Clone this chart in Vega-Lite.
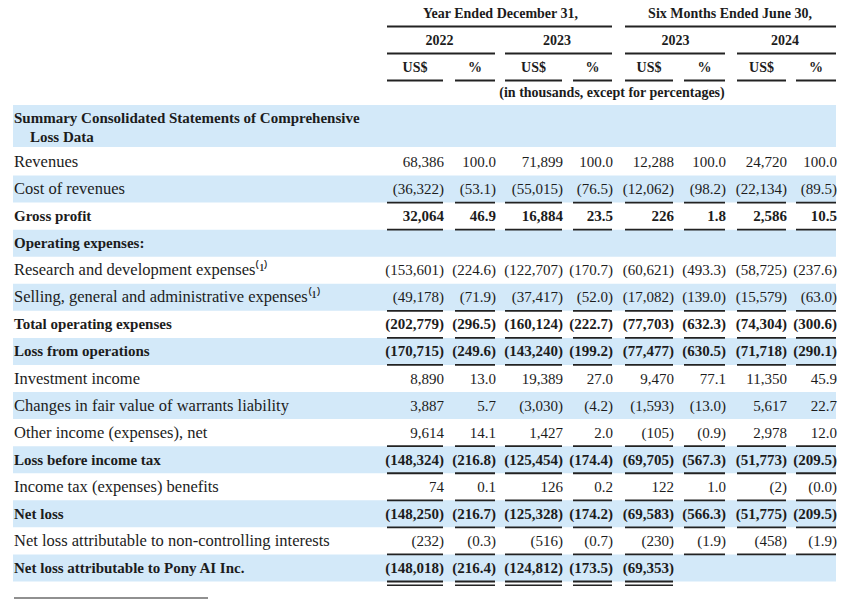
{
  "$schema": "https://vega.github.io/schema/vega-lite/v6.json",
  "width": 852,
  "height": 614,
  "padding": 0,
  "autosize": "none",
  "background": "white",
  "config": {"view": {"stroke": null}, "text": {"font": "Liberation Serif", "color": "#1c1c1c"}, "rule": {"color": "#222222"}},
  "datasets": {
    "rows": [
      {"r": 4, "label": ["Summary Consolidated Statements of Comprehensive", "Loss Data"], "kind": "section", "under": "none"},
      {"r": 5, "label": "Revenues", "kind": "item", "under": "none", "v1": "68,386", "v2": "100.0", "v3": "71,899", "v4": "100.0", "v5": "12,288", "v6": "100.0", "v7": "24,720", "v8": "100.0"},
      {"r": 6, "label": "Cost of revenues", "kind": "item", "under": "single", "v1": "(36,322)", "v2": "(53.1)", "v3": "(55,015)", "v4": "(76.5)", "v5": "(12,062)", "v6": "(98.2)", "v7": "(22,134)", "v8": "(89.5)"},
      {"r": 7, "label": "Gross profit", "kind": "total", "under": "single", "v1": "32,064", "v2": "46.9", "v3": "16,884", "v4": "23.5", "v5": "226", "v6": "1.8", "v7": "2,586", "v8": "10.5"},
      {"r": 8, "label": "Operating expenses:", "kind": "section", "under": "none"},
      {"r": 9, "label": "Research and development expenses\u207d\u00b9\u207e", "kind": "item", "under": "none", "v1": "(153,601)", "v2": "(224.6)", "v3": "(122,707)", "v4": "(170.7)", "v5": "(60,621)", "v6": "(493.3)", "v7": "(58,725)", "v8": "(237.6)"},
      {"r": 10, "label": "Selling, general and administrative expenses\u207d\u00b9\u207e", "kind": "item", "under": "single", "v1": "(49,178)", "v2": "(71.9)", "v3": "(37,417)", "v4": "(52.0)", "v5": "(17,082)", "v6": "(139.0)", "v7": "(15,579)", "v8": "(63.0)"},
      {"r": 11, "label": "Total operating expenses", "kind": "total", "under": "single", "v1": "(202,779)", "v2": "(296.5)", "v3": "(160,124)", "v4": "(222.7)", "v5": "(77,703)", "v6": "(632.3)", "v7": "(74,304)", "v8": "(300.6)"},
      {"r": 12, "label": "Loss from operations", "kind": "total", "under": "single", "v1": "(170,715)", "v2": "(249.6)", "v3": "(143,240)", "v4": "(199.2)", "v5": "(77,477)", "v6": "(630.5)", "v7": "(71,718)", "v8": "(290.1)"},
      {"r": 13, "label": "Investment income", "kind": "item", "under": "none", "v1": "8,890", "v2": "13.0", "v3": "19,389", "v4": "27.0", "v5": "9,470", "v6": "77.1", "v7": "11,350", "v8": "45.9"},
      {"r": 14, "label": "Changes in fair value of warrants liability", "kind": "item", "under": "none", "v1": "3,887", "v2": "5.7", "v3": "(3,030)", "v4": "(4.2)", "v5": "(1,593)", "v6": "(13.0)", "v7": "5,617", "v8": "22.7"},
      {"r": 15, "label": "Other income (expenses), net", "kind": "item", "under": "single", "v1": "9,614", "v2": "14.1", "v3": "1,427", "v4": "2.0", "v5": "(105)", "v6": "(0.9)", "v7": "2,978", "v8": "12.0"},
      {"r": 16, "label": "Loss before income tax", "kind": "total", "under": "single", "v1": "(148,324)", "v2": "(216.8)", "v3": "(125,454)", "v4": "(174.4)", "v5": "(69,705)", "v6": "(567.3)", "v7": "(51,773)", "v8": "(209.5)"},
      {"r": 17, "label": "Income tax (expenses) benefits", "kind": "item", "under": "single", "v1": "74", "v2": "0.1", "v3": "126", "v4": "0.2", "v5": "122", "v6": "1.0", "v7": "(2)", "v8": "(0.0)"},
      {"r": 18, "label": "Net loss", "kind": "total", "under": "single", "v1": "(148,250)", "v2": "(216.7)", "v3": "(125,328)", "v4": "(174.2)", "v5": "(69,583)", "v6": "(566.3)", "v7": "(51,775)", "v8": "(209.5)"},
      {"r": 19, "label": "Net loss attributable to non-controlling interests", "kind": "item", "under": "single", "v1": "(232)", "v2": "(0.3)", "v3": "(516)", "v4": "(0.7)", "v5": "(230)", "v6": "(1.9)", "v7": "(458)", "v8": "(1.9)"},
      {"r": 20, "label": "Net loss attributable to Pony AI Inc.", "kind": "total", "under": "double", "v1": "(148,018)", "v2": "(216.4)", "v3": "(124,812)", "v4": "(173.5)", "v5": "(69,353)"}
    ],
    "heads": [
      {"lvl": 0, "h": 1, "t": "Year Ended December 31,"},
      {"lvl": 0, "h": 2, "t": "Six Months Ended June 30,"},
      {"lvl": 1, "h": 1, "t": "2022"},
      {"lvl": 1, "h": 2, "t": "2023"},
      {"lvl": 1, "h": 3, "t": "2023"},
      {"lvl": 1, "h": 4, "t": "2024"}
    ],
    "colheads": [
      {"lvl": 2, "c": 1, "t": "US$"}, {"lvl": 2, "c": 2, "t": "%"},
      {"lvl": 2, "c": 3, "t": "US$"}, {"lvl": 2, "c": 4, "t": "%"},
      {"lvl": 2, "c": 5, "t": "US$"}, {"lvl": 2, "c": 6, "t": "%"},
      {"lvl": 2, "c": 7, "t": "US$"}, {"lvl": 2, "c": 8, "t": "%"}
    ],
    "spans": [
      {"lvl": 0, "first": 1, "last": 4}, {"lvl": 0, "first": 5, "last": 8},
      {"lvl": 1, "first": 1, "last": 2}, {"lvl": 1, "first": 3, "last": 4},
      {"lvl": 1, "first": 5, "last": 6}, {"lvl": 1, "first": 7, "last": 8},
      {"lvl": 2, "first": 1, "last": 1}, {"lvl": 2, "first": 2, "last": 2},
      {"lvl": 2, "first": 3, "last": 3}, {"lvl": 2, "first": 4, "last": 4},
      {"lvl": 2, "first": 5, "last": 5}, {"lvl": 2, "first": 6, "last": 6},
      {"lvl": 2, "first": 7, "last": 7}, {"lvl": 2, "first": 8, "last": 8}
    ]
  },
  "resolve": {"scale": {"x": "independent", "y": "independent"}},
  "layer": [
    {
      "data": {"name": "rows"},
      "transform": [{"filter": "datum.r >= 6 && datum.r % 2 == 0"}],
      "mark": {"type": "rect", "color": "#d3e9f9", "yOffset": -13.5, "y2Offset": 13.5},
      "encoding": {
        "x": {"datum": 0, "type": "quantitative", "axis": null, "scale": {"type": "linear", "domain": [0, 0.5, 1, 1.5, 2, 2.5, 3, 3.5, 4, 4.5, 5, 5.5, 6, 6.5, 7, 7.5, 8], "range": [13, 387, 443, 455, 495, 505, 562, 573, 612, 625, 673, 684, 725, 737, 786, 796, 836], "zero": false, "nice": false}},
        "x2": {"datum": 8},
        "y": {"field": "r", "type": "quantitative", "axis": null, "scale": {"type": "linear", "domain": [0, 1, 2, 3, 4, 5, 20], "range": [14, 41, 68, 93, 127.5, 162, 568], "zero": false, "nice": false}},
        "y2": {"field": "r"}
      }
    },
    {
      "data": {"name": "rows"},
      "transform": [{"filter": "datum.r == 4"}],
      "mark": {"type": "rect", "color": "#d3e9f9", "yOffset": -22.5, "y2Offset": 19.5},
      "encoding": {
        "x": {"datum": 0, "type": "quantitative", "axis": null, "scale": {"type": "linear", "domain": [0, 0.5, 1, 1.5, 2, 2.5, 3, 3.5, 4, 4.5, 5, 5.5, 6, 6.5, 7, 7.5, 8], "range": [13, 387, 443, 455, 495, 505, 562, 573, 612, 625, 673, 684, 725, 737, 786, 796, 836], "zero": false, "nice": false}},
        "x2": {"datum": 8},
        "y": {"field": "r", "type": "quantitative", "axis": null, "scale": {"type": "linear", "domain": [0, 1, 2, 3, 4, 5, 20], "range": [14, 41, 68, 93, 127.5, 162, 568], "zero": false, "nice": false}},
        "y2": {"field": "r"}
      }
    },
    {
      "data": {"name": "rows"},
      "transform": [{"filter": "datum.kind == 'item'"}],
      "mark": {"type": "text", "align": "left", "baseline": "middle", "fontSize": 16.5, "dx": 1},
      "encoding": {
        "x": {"datum": 0, "type": "quantitative", "axis": null, "scale": {"type": "linear", "domain": [0, 0.5, 1, 1.5, 2, 2.5, 3, 3.5, 4, 4.5, 5, 5.5, 6, 6.5, 7, 7.5, 8], "range": [13, 387, 443, 455, 495, 505, 562, 573, 612, 625, 673, 684, 725, 737, 786, 796, 836], "zero": false, "nice": false}},
        "y": {"field": "r", "type": "quantitative", "axis": null, "scale": {"type": "linear", "domain": [0, 1, 2, 3, 4, 5, 20], "range": [14, 41, 68, 93, 127.5, 162, 568], "zero": false, "nice": false}},
        "text": {"field": "label"}
      }
    },
    {
      "data": {"name": "rows"},
      "transform": [{"filter": "datum.kind != 'item' && datum.r != 4"}],
      "mark": {"type": "text", "align": "left", "baseline": "middle", "fontSize": 15, "fontWeight": "bold", "dx": 1},
      "encoding": {
        "x": {"datum": 0, "type": "quantitative", "axis": null, "scale": {"type": "linear", "domain": [0, 0.5, 1, 1.5, 2, 2.5, 3, 3.5, 4, 4.5, 5, 5.5, 6, 6.5, 7, 7.5, 8], "range": [13, 387, 443, 455, 495, 505, 562, 573, 612, 625, 673, 684, 725, 737, 786, 796, 836], "zero": false, "nice": false}},
        "y": {"field": "r", "type": "quantitative", "axis": null, "scale": {"type": "linear", "domain": [0, 1, 2, 3, 4, 5, 20], "range": [14, 41, 68, 93, 127.5, 162, 568], "zero": false, "nice": false}},
        "text": {"field": "label"}
      }
    },
    {
      "data": {"name": "rows"},
      "transform": [
        {"filter": "datum.r == 4"},
        {"flatten": ["label"]},
        {"window": [{"op": "row_number", "as": "line"}]},
        {"filter": "datum.line == 1"}
      ],
      "mark": {"type": "text", "align": "left", "baseline": "middle", "fontSize": 15, "fontWeight": "bold", "dx": 1, "dy": -9.5},
      "encoding": {
        "x": {"datum": 0, "type": "quantitative", "axis": null, "scale": {"type": "linear", "domain": [0, 0.5, 1, 1.5, 2, 2.5, 3, 3.5, 4, 4.5, 5, 5.5, 6, 6.5, 7, 7.5, 8], "range": [13, 387, 443, 455, 495, 505, 562, 573, 612, 625, 673, 684, 725, 737, 786, 796, 836], "zero": false, "nice": false}},
        "y": {"field": "r", "type": "quantitative", "axis": null, "scale": {"type": "linear", "domain": [0, 1, 2, 3, 4, 5, 20], "range": [14, 41, 68, 93, 127.5, 162, 568], "zero": false, "nice": false}},
        "text": {"field": "label"}
      }
    },
    {
      "data": {"name": "rows"},
      "transform": [
        {"filter": "datum.r == 4"},
        {"flatten": ["label"]},
        {"window": [{"op": "row_number", "as": "line"}]},
        {"filter": "datum.line == 2"}
      ],
      "mark": {"type": "text", "align": "left", "baseline": "middle", "fontSize": 15, "fontWeight": "bold", "dx": 17, "dy": 9.5},
      "encoding": {
        "x": {"datum": 0, "type": "quantitative", "axis": null, "scale": {"type": "linear", "domain": [0, 0.5, 1, 1.5, 2, 2.5, 3, 3.5, 4, 4.5, 5, 5.5, 6, 6.5, 7, 7.5, 8], "range": [13, 387, 443, 455, 495, 505, 562, 573, 612, 625, 673, 684, 725, 737, 786, 796, 836], "zero": false, "nice": false}},
        "y": {"field": "r", "type": "quantitative", "axis": null, "scale": {"type": "linear", "domain": [0, 1, 2, 3, 4, 5, 20], "range": [14, 41, 68, 93, 127.5, 162, 568], "zero": false, "nice": false}},
        "text": {"field": "label"}
      }
    },
    {
      "data": {"name": "rows"},
      "transform": [
        {"fold": ["v1", "v2", "v3", "v4", "v5", "v6", "v7", "v8"], "as": ["key", "v"]},
        {"filter": "isValid(datum.v) && datum.kind == 'item'"},
        {"calculate": "toNumber(substring(datum.key, 1))", "as": "c"}
      ],
      "mark": {"type": "text", "align": "right", "baseline": "middle", "fontSize": 15, "dx": 1},
      "encoding": {
        "x": {"field": "c", "type": "quantitative", "axis": null, "scale": {"type": "linear", "domain": [0, 0.5, 1, 1.5, 2, 2.5, 3, 3.5, 4, 4.5, 5, 5.5, 6, 6.5, 7, 7.5, 8], "range": [13, 387, 443, 455, 495, 505, 562, 573, 612, 625, 673, 684, 725, 737, 786, 796, 836], "zero": false, "nice": false}},
        "y": {"field": "r", "type": "quantitative", "axis": null, "scale": {"type": "linear", "domain": [0, 1, 2, 3, 4, 5, 20], "range": [14, 41, 68, 93, 127.5, 162, 568], "zero": false, "nice": false}},
        "text": {"field": "v"}
      }
    },
    {
      "data": {"name": "rows"},
      "transform": [
        {"fold": ["v1", "v2", "v3", "v4", "v5", "v6", "v7", "v8"], "as": ["key", "v"]},
        {"filter": "isValid(datum.v) && datum.kind != 'item'"},
        {"calculate": "toNumber(substring(datum.key, 1))", "as": "c"}
      ],
      "mark": {"type": "text", "align": "right", "baseline": "middle", "fontSize": 15, "fontWeight": "bold", "dx": 1},
      "encoding": {
        "x": {"field": "c", "type": "quantitative", "axis": null, "scale": {"type": "linear", "domain": [0, 0.5, 1, 1.5, 2, 2.5, 3, 3.5, 4, 4.5, 5, 5.5, 6, 6.5, 7, 7.5, 8], "range": [13, 387, 443, 455, 495, 505, 562, 573, 612, 625, 673, 684, 725, 737, 786, 796, 836], "zero": false, "nice": false}},
        "y": {"field": "r", "type": "quantitative", "axis": null, "scale": {"type": "linear", "domain": [0, 1, 2, 3, 4, 5, 20], "range": [14, 41, 68, 93, 127.5, 162, 568], "zero": false, "nice": false}},
        "text": {"field": "v"}
      }
    },
    {
      "data": {"name": "rows"},
      "transform": [
        {"fold": ["v1", "v2", "v3", "v4", "v5", "v6", "v7", "v8"], "as": ["key", "v"]},
        {"filter": "isValid(datum.v) && datum.under != 'none'"},
        {"calculate": "toNumber(substring(datum.key, 1))", "as": "c"},
        {"calculate": "datum.c - 0.5", "as": "c0"}
      ],
      "mark": {"type": "rule", "strokeWidth": 1.8, "yOffset": 13.5},
      "encoding": {
        "x": {"field": "c0", "type": "quantitative", "axis": null, "scale": {"type": "linear", "domain": [0, 0.5, 1, 1.5, 2, 2.5, 3, 3.5, 4, 4.5, 5, 5.5, 6, 6.5, 7, 7.5, 8], "range": [13, 387, 443, 455, 495, 505, 562, 573, 612, 625, 673, 684, 725, 737, 786, 796, 836], "zero": false, "nice": false}},
        "x2": {"field": "c"},
        "y": {"field": "r", "type": "quantitative", "axis": null, "scale": {"type": "linear", "domain": [0, 1, 2, 3, 4, 5, 20], "range": [14, 41, 68, 93, 127.5, 162, 568], "zero": false, "nice": false}}
      }
    },
    {
      "data": {"name": "rows"},
      "transform": [
        {"fold": ["v1", "v2", "v3", "v4", "v5", "v6", "v7", "v8"], "as": ["key", "v"]},
        {"filter": "isValid(datum.v) && datum.under == 'double'"},
        {"calculate": "toNumber(substring(datum.key, 1))", "as": "c"},
        {"calculate": "datum.c - 0.5", "as": "c0"}
      ],
      "mark": {"type": "rule", "strokeWidth": 1.5, "yOffset": 17.3},
      "encoding": {
        "x": {"field": "c0", "type": "quantitative", "axis": null, "scale": {"type": "linear", "domain": [0, 0.5, 1, 1.5, 2, 2.5, 3, 3.5, 4, 4.5, 5, 5.5, 6, 6.5, 7, 7.5, 8], "range": [13, 387, 443, 455, 495, 505, 562, 573, 612, 625, 673, 684, 725, 737, 786, 796, 836], "zero": false, "nice": false}},
        "x2": {"field": "c"},
        "y": {"field": "r", "type": "quantitative", "axis": null, "scale": {"type": "linear", "domain": [0, 1, 2, 3, 4, 5, 20], "range": [14, 41, 68, 93, 127.5, 162, 568], "zero": false, "nice": false}}
      }
    },
    {
      "data": {"name": "spans"},
      "transform": [
        {"calculate": "datum.first - 0.5", "as": "x0"}
      ],
      "mark": {"type": "rule", "strokeWidth": 1.8, "yOffset": 12.5},
      "encoding": {
        "x": {"field": "x0", "type": "quantitative", "axis": null, "scale": {"type": "linear", "domain": [0, 0.5, 1, 1.5, 2, 2.5, 3, 3.5, 4, 4.5, 5, 5.5, 6, 6.5, 7, 7.5, 8], "range": [13, 387, 443, 455, 495, 505, 562, 573, 612, 625, 673, 684, 725, 737, 786, 796, 836], "zero": false, "nice": false}},
        "x2": {"field": "last"},
        "y": {"field": "lvl", "type": "quantitative", "axis": null, "scale": {"type": "linear", "domain": [0, 1, 2, 3, 4, 5, 20], "range": [14, 41, 68, 93, 127.5, 162, 568], "zero": false, "nice": false}}
      }
    },
    {
      "data": {"name": "heads"},
      "transform": [{"filter": "datum.lvl == 0"}],
      "mark": {"type": "text", "align": "center", "baseline": "middle", "fontSize": 14, "fontWeight": "bold"},
      "encoding": {
        "x": {"field": "h", "type": "quantitative", "axis": null, "scale": {"type": "linear", "domain": [1, 2], "range": [500.5, 730], "zero": false, "nice": false}},
        "y": {"field": "lvl", "type": "quantitative", "axis": null, "scale": {"type": "linear", "domain": [0, 1, 2, 3, 4, 5, 20], "range": [14, 41, 68, 93, 127.5, 162, 568], "zero": false, "nice": false}},
        "text": {"field": "t"}
      }
    },
    {
      "data": {"name": "heads"},
      "transform": [{"filter": "datum.lvl == 1"}],
      "mark": {"type": "text", "align": "center", "baseline": "middle", "fontSize": 14, "fontWeight": "bold"},
      "encoding": {
        "x": {"field": "h", "type": "quantitative", "axis": null, "scale": {"type": "linear", "domain": [1, 2, 3, 4], "range": [439.5, 557, 675.5, 785], "zero": false, "nice": false}},
        "y": {"field": "lvl", "type": "quantitative", "axis": null, "scale": {"type": "linear", "domain": [0, 1, 2, 3, 4, 5, 20], "range": [14, 41, 68, 93, 127.5, 162, 568], "zero": false, "nice": false}},
        "text": {"field": "t"}
      }
    },
    {
      "data": {"name": "colheads"},
      "transform": [{"calculate": "datum.c - 0.25", "as": "xc"}],
      "mark": {"type": "text", "align": "center", "baseline": "middle", "fontSize": 14, "fontWeight": "bold"},
      "encoding": {
        "x": {"field": "xc", "type": "quantitative", "axis": null, "scale": {"type": "linear", "domain": [0, 0.5, 1, 1.5, 2, 2.5, 3, 3.5, 4, 4.5, 5, 5.5, 6, 6.5, 7, 7.5, 8], "range": [13, 387, 443, 455, 495, 505, 562, 573, 612, 625, 673, 684, 725, 737, 786, 796, 836], "zero": false, "nice": false}},
        "y": {"field": "lvl", "type": "quantitative", "axis": null, "scale": {"type": "linear", "domain": [0, 1, 2, 3, 4, 5, 20], "range": [14, 41, 68, 93, 127.5, 162, 568], "zero": false, "nice": false}},
        "text": {"field": "t"}
      }
    },
    {
      "data": {"values": [{"t": "(in thousands, except for percentages)"}]},
      "mark": {"type": "text", "align": "center", "baseline": "middle", "fontSize": 14, "fontWeight": "bold"},
      "encoding": {
        "x": {"datum": 4, "type": "quantitative", "axis": null, "scale": {"type": "linear", "domain": [0, 0.5, 1, 1.5, 2, 2.5, 3, 3.5, 4, 4.5, 5, 5.5, 6, 6.5, 7, 7.5, 8], "range": [13, 387, 443, 455, 495, 505, 562, 573, 612, 625, 673, 684, 725, 737, 786, 796, 836], "zero": false, "nice": false}},
        "y": {"datum": 3, "type": "quantitative", "axis": null, "scale": {"type": "linear", "domain": [0, 1, 2, 3, 4, 5, 20], "range": [14, 41, 68, 93, 127.5, 162, 568], "zero": false, "nice": false}},
        "text": {"field": "t"}
      }
    },
    {
      "data": {"values": [{"note": "footnote separator"}]},
      "mark": {"type": "rule", "strokeWidth": 1.2, "yOffset": 30},
      "encoding": {
        "x": {"datum": 0, "type": "quantitative", "axis": null, "scale": {"type": "linear", "domain": [0, 1], "range": [14, 208], "zero": false, "nice": false}},
        "x2": {"datum": 1},
        "y": {"datum": 20, "type": "quantitative", "axis": null, "scale": {"type": "linear", "domain": [0, 1, 2, 3, 4, 5, 20], "range": [14, 41, 68, 93, 127.5, 162, 568], "zero": false, "nice": false}}
      }
    }
  ]
}
